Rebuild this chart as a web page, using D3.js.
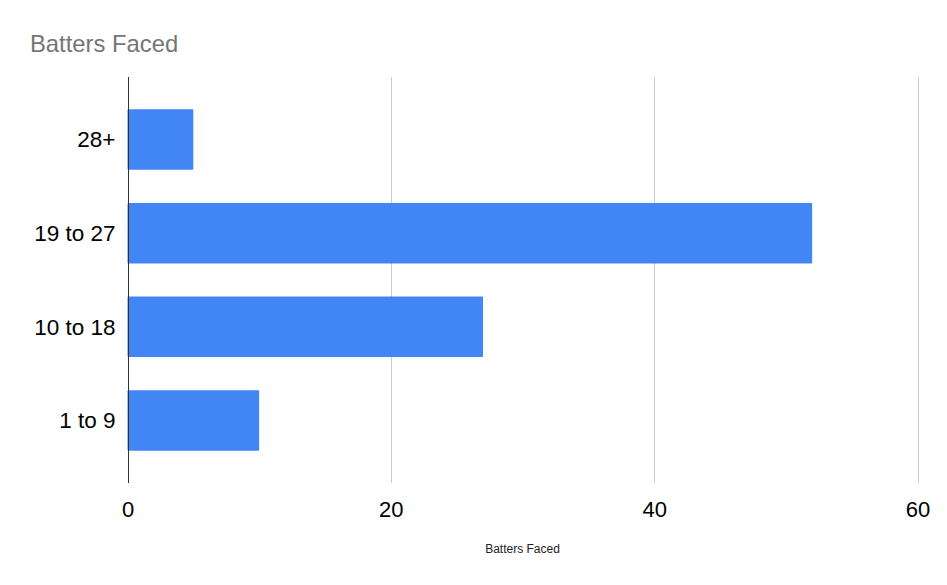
<!DOCTYPE html>
<html>
<head>
<meta charset="utf-8">
<script src="https://cdn.jsdelivr.net/npm/d3@7"></script>
<style>
  html, body { margin: 0; padding: 0; background: #fff; }
  svg { display: block; font-family: Arial, "Liberation Sans", sans-serif; }
</style>
</head>
<body>
<svg id="chart" width="947" height="585"></svg>
<script>
const categories = ["28+", "19 to 27", "10 to 18", "1 to 9"];
const values = [5, 52, 27, 10];
const xTicks = [0, 20, 40, 60];
const chartTitle = "Batters Faced";
const xAxisTitle = "Batters Faced";

(function () {
const svg = d3.select("#chart");
const mLeft = 127.5, mRight = 917.5, mTop = 77, mBottom = 483;

const x = d3.scaleLinear().domain([0, 60]).range([mLeft, mRight]);
const y = d3.scaleBand().domain(categories).range([mTop, mBottom])
  .paddingInner(0.355).paddingOuter(0.345);

// gridlines
svg.append("g").selectAll("line").data(xTicks.filter(d => d !== 0)).join("line")
  .attr("x1", d => Math.round(x(d)) + 0.5).attr("x2", d => Math.round(x(d)) + 0.5)
  .attr("y1", mTop).attr("y2", mBottom)
  .attr("stroke", "#cccccc").attr("stroke-width", 1);

// bars
svg.append("g").selectAll("rect").data(values).join("rect")
  .attr("x", x(0))
  .attr("y", (d, i) => y(categories[i]))
  .attr("width", d => x(d) - x(0))
  .attr("height", y.bandwidth())
  .attr("fill", "#4285f4")
  .attr("rx", 1);

// baseline axis
svg.append("line")
  .attr("x1", Math.round(x(0)) + 0.5).attr("x2", Math.round(x(0)) + 0.5)
  .attr("y1", mTop).attr("y2", mBottom)
  .attr("stroke", "#333333").attr("stroke-width", 1);

// x tick labels
const xAxis = d3.axisBottom(x).tickValues(xTicks).tickSize(0).tickPadding(0);
const gx = svg.append("g").attr("transform", `translate(0,${mBottom})`).call(xAxis);
gx.select(".domain").remove();
gx.selectAll("text").attr("font-size", 22).attr("fill", "#000")
  .attr("dy", null).attr("y", 34)
  .style("font-family", "Arial, 'Liberation Sans', sans-serif");

// y tick labels
const yAxis = d3.axisLeft(y).tickSize(0).tickPadding(0);
const gy = svg.append("g").attr("transform", `translate(${mLeft - 12},0)`).call(yAxis);
gy.select(".domain").remove();
gy.selectAll("text").attr("font-size", 22.5).attr("fill", "#000")
  .attr("dy", "0.35em")
  .style("font-family", "Arial, 'Liberation Sans', sans-serif");

// title
svg.append("text").attr("x", 30).attr("y", 51.5)
  .attr("font-size", 23.8).attr("fill", "#757575")
  .text(chartTitle);

// x axis title
svg.append("text").attr("x", (mLeft + mRight) / 2).attr("y", 553)
  .attr("text-anchor", "middle").attr("font-size", 12).attr("fill", "#222")
  .text(xAxisTitle);
})();
</script>
</body>
</html>
